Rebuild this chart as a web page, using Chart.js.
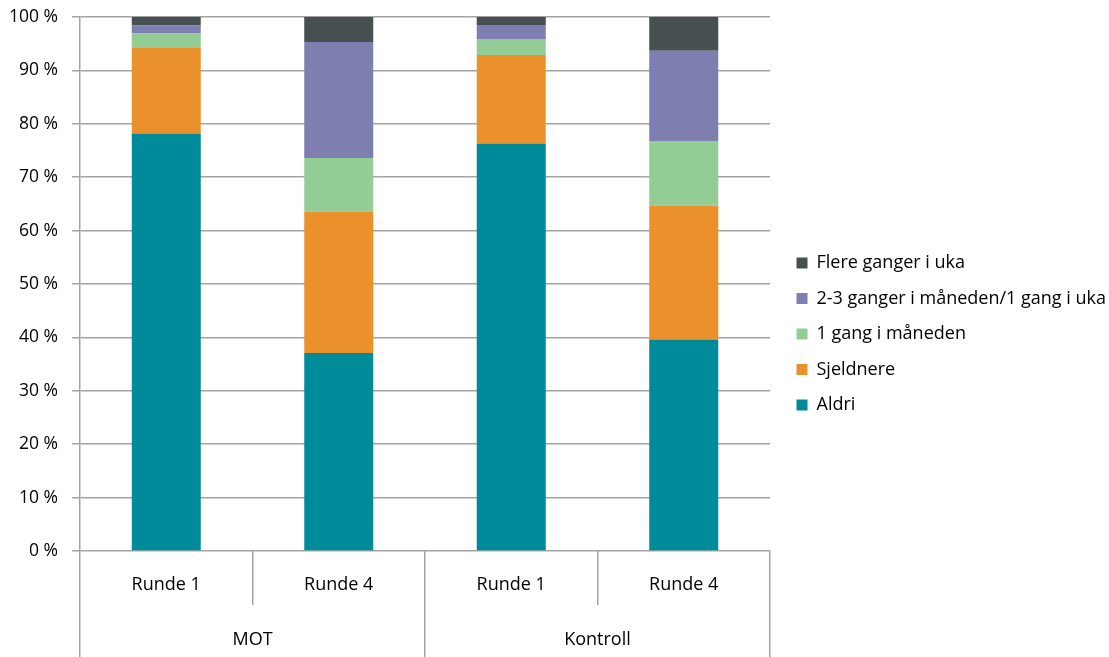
<!DOCTYPE html>
<html>
<head>
<meta charset="utf-8">
<script src="https://cdn.jsdelivr.net/npm/chart.js@4"></script>
<style>
  html, body { margin: 0; padding: 0; background: #fff; }
  #wrap { width: 1109px; height: 657px; }
</style>
</head>
<body>
<div id="wrap"><canvas id="myChart" width="1109" height="657"></canvas></div>
<script>
// bars: group / round
var rounds = ["Runde 1", "Runde 4", "Runde 1", "Runde 4"];
var groups = ["MOT", "Kontroll"];

// percent values, bottom to top
var aldri      = [78.2, 37.1, 76.3, 39.6];
var sjeldnere  = [16.0, 26.5, 16.6, 25.1];
var gangMnd    = [2.7, 10.0, 3.0, 12.1];
var gangerMnd  = [1.5, 21.7, 2.6, 16.9];
var flereUka   = [1.6, 4.7, 1.5, 6.3];

var yTicks = [0, 10, 20, 30, 40, 50, 60, 70, 80, 90, 100];

var font = "'Open Sans', Lato, sans-serif";
var gridColor = '#a3a3a3';

function ds(label, data, color) {
  return {
    label: label,
    data: data,
    backgroundColor: color,
    borderWidth: 0,
    barPercentage: 0.4,
    categoryPercentage: 1.0
  };
}

// legend takes a fixed width so the plot ends where it should,
// and its items sit a bit right of the plot edge
var legendPlace = {
  id: 'legendPlace',
  beforeLayout: function(chart) {
    var lg = chart.legend;
    if (!lg || lg._fixed) return;
    var fit = lg.fit;
    lg.fit = function() {
      fit.call(this);
      this.width = 339;
    };
    lg._fixed = true;
  },
  afterLayout: function(chart) {
    if (chart.legend) {
      chart.legend.left += 9;
      chart.legend.top -= 3;
      chart.legend.bottom -= 3;
    }
  }
};

var ctx = document.getElementById('myChart').getContext('2d');
var chart = new Chart(ctx, {
  type: 'bar',
  data: {
    labels: rounds,
    datasets: [
      ds("Aldri", aldri, '#008b9a'),
      ds("Sjeldnere", sjeldnere, '#eb912b'),
      ds("1 gang i måneden", gangMnd, '#94cc96'),
      ds("2-3 ganger i måneden/1 gang i uka", gangerMnd, '#7e7eb0'),
      ds("Flere ganger i uka", flereUka, '#474f51')
    ]
  },
  plugins: [legendPlace],
  options: {
    responsive: false,
    animation: false,
    layout: { padding: { top: 17, right: 0, left: 0, bottom: 0 } },
    plugins: {
      tooltip: { enabled: false },
      legend: {
        position: 'right',
        reverse: true,
        labels: {
          color: '#000',
          font: { family: font, size: 18 },
          boxWidth: 11,
          boxHeight: 11,
          padding: 17.5
        }
      }
    },
    scales: {
      x: {
        stacked: true,
        position: 'bottom',
        grid: { offset: true, drawOnChartArea: false, tickLength: 54, color: gridColor, lineWidth: 1.5 },
        border: { display: false },
        ticks: { color: '#000', font: { family: font, size: 18 }, padding: -31, maxRotation: 0 },
        afterFit: function(scale) { scale.height = 54; scale.paddingLeft = 0; scale.paddingRight = 0; }
      },
      x2: {
        type: 'category',
        labels: groups,
        position: 'bottom',
        grid: { offset: true, drawOnChartArea: false, tickLength: 52, color: gridColor, lineWidth: 1.5 },
        border: { display: false },
        ticks: { color: '#000', font: { family: font, size: 18 }, padding: -28, maxRotation: 0 },
        afterFit: function(scale) { scale.height = 52; scale.paddingLeft = 0; scale.paddingRight = 0; }
      },
      y: {
        stacked: true,
        min: 0,
        max: 100,
        afterBuildTicks: function(scale) {
          scale.ticks = yTicks.map(function(v) { return { value: v }; });
        },
        grid: { color: gridColor, lineWidth: 1.5, tickLength: 8 },
        border: { color: gridColor, width: 1.5 },
        ticks: {
          color: '#000',
          font: { family: font, size: 17.5 },
          padding: 14,
          callback: function(v) { return v + ' %'; }
        },
        afterFit: function(scale) { scale.width = 80; scale.paddingTop = 0; scale.paddingBottom = 0; }
      }
    }
  }
});
</script>
</body>
</html>
